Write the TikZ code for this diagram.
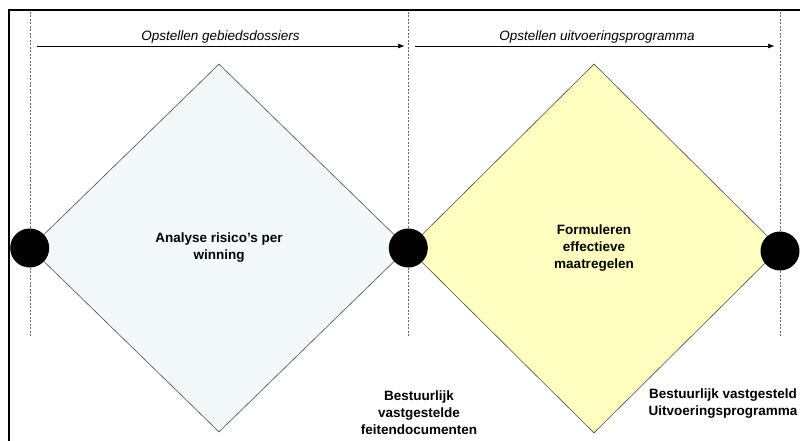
\documentclass[tikz,border=0pt]{standalone}
\usepackage{fontspec}
\setmainfont{Liberation Sans}
\usetikzlibrary{arrows.meta}
\usetikzlibrary{shapes.geometric}
\definecolor{faseblauw}{HTML}{F3F8FA}
\definecolor{fasegeel}{HTML}{FFFFC0}

\begin{document}
\begin{tikzpicture}[x=1pt,y=-1pt,
    fase/.style={diamond,draw=black!70,line width=0.6pt,inner sep=0pt,align=center,
        font=\bfseries\fontsize{13.5}{17}\selectfont},
    mijlpaal/.style={circle,fill=black,minimum size=39pt,inner sep=0pt},
    proces/.style={-{Triangle[length=6pt,width=4.5pt]},line width=0.5pt},
    staptekst/.style={font=\itshape\fontsize{13.5}{15}\selectfont},
    besluit/.style={align=center,font=\bfseries\fontsize{13.5}{17}\selectfont}]
            \useasboundingbox (0,0) rectangle (800,441);
            \fill[white] (0,0) rectangle (800,441);

            % kader
            \draw[line width=2pt] (9,441) -- (9,10) -- (800,10);

            % stippellijnen
            \foreach \x in {30,408,780}{
                \draw[black!60,line width=0.5pt,dash pattern=on 2pt off 1.5pt] (\x,12) -- (\x,337);
            }

            % processtappen
            \coordinate (s1) at (37,46);
            \coordinate (e1) at (404,46);
            \coordinate (s2) at (415,46);
            \coordinate (e2) at (774,46);
            \draw[proces] (s1) -- (e1) node[midway,above=-1pt,staptekst] {Opstellen gebiedsdossiers};
            \draw[proces] (s2) -- (e2) node[pos=0.507,above=-1pt,staptekst] {Opstellen uitvoeringsprogramma};

            % fasen
            \node[fase,fill=faseblauw,minimum width=378pt,minimum height=368pt] (analyse) at (219,248)
                {Analyse risico's per\\winning};
            \node[fase,fill=fasegeel,minimum width=372pt,minimum height=369pt] (formuleren) at (594,248.5)
                {Formuleren\\effectieve\\maatregelen};

            % mijlpalen
            \node[mijlpaal] (m1) at (analyse.west) {};
            \node[mijlpaal] (m2) at (analyse.east) {};
            \node[mijlpaal] (m3) at (780,251) {};

            \node[besluit] (b1) at (419,412.5) {Bestuurlijk\\vastgestelde\\feitendocumenten};
            \node[besluit] (b2) at (723,404) {Bestuurlijk vastgesteld\\Uitvoeringsprogramma};
        \end{tikzpicture}
\end{document}
